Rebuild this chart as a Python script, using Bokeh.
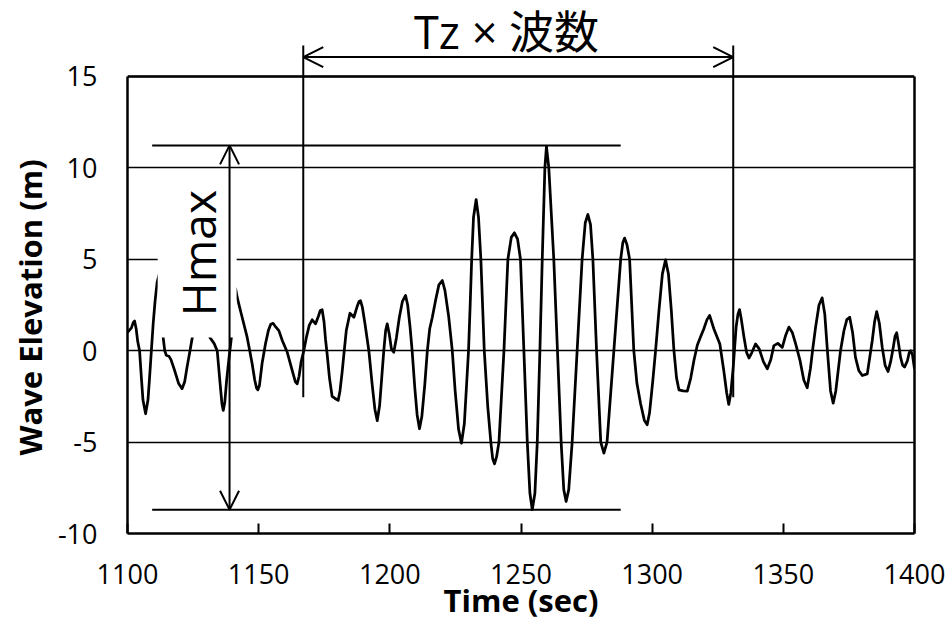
import math
from bokeh.plotting import figure
from bokeh.models import LinearAxis, FixedTicker, Arrow, OpenHead, Range1d, Title
from bokeh.core.properties import value
from bokeh.embed import file_html
from bokeh.resources import INLINE

# ---- wave record (time in s, elevation in m) ----
time_sec = [
    1100.0, 1101.5, 1102.2, 1102.7, 1103.3, 1103.9, 1104.6, 1105.3, 1105.9, 1106.9,
    1107.8, 1108.4, 1109.1, 1109.8, 1110.5, 1111.3, 1112.3, 1113.1, 1113.6, 1114.2,
    1114.8, 1115.8, 1116.6, 1118.0, 1119.5, 1120.8, 1121.8, 1122.7, 1123.7, 1124.7,
    1126.5, 1128.0, 1129.8, 1131.4, 1133.0, 1134.2, 1135.3, 1136.0, 1136.5, 1137.1,
    1137.8, 1138.7, 1139.6, 1140.5, 1141.2, 1141.8, 1142.7, 1143.7, 1145.6, 1146.6,
    1147.5, 1148.5, 1149.2, 1149.7, 1150.3, 1151.3, 1152.6, 1153.7, 1154.6, 1155.5,
    1156.5, 1157.7, 1159.0, 1160.9, 1162.8, 1164.0, 1164.7, 1165.4, 1166.2, 1167.2,
    1168.3, 1169.3, 1170.4, 1171.7, 1172.8, 1173.5, 1174.2, 1174.9, 1175.5, 1176.1,
    1177.0, 1178.0, 1179.0, 1180.3, 1181.0, 1181.8, 1182.5, 1183.4, 1184.8, 1186.3,
    1187.5, 1188.3, 1188.8, 1189.5, 1190.5, 1192.0, 1193.3, 1194.3, 1195.2, 1196.1,
    1196.9, 1197.7, 1198.4, 1199.0, 1199.8, 1200.6, 1201.5, 1202.5, 1203.6, 1204.8,
    1206.0, 1206.8, 1207.7, 1208.5, 1209.5, 1210.4, 1211.3, 1212.2, 1213.3, 1214.3,
    1215.2, 1216.2, 1217.5, 1218.7, 1220.0, 1221.0, 1222.4, 1223.8, 1224.9, 1226.2,
    1227.3, 1228.4, 1229.2, 1230.0, 1230.6, 1231.2, 1231.9, 1232.9, 1233.8, 1234.7,
    1236.0, 1237.3, 1238.5, 1239.2, 1239.9, 1240.7, 1241.6, 1243.5, 1245.0, 1246.3,
    1247.5, 1248.7, 1249.8, 1251.1, 1252.4, 1253.4, 1254.3, 1255.3, 1256.2, 1257.2,
    1258.1, 1259.1, 1259.7, 1260.6, 1262.5, 1263.9, 1265.3, 1266.3, 1267.2, 1268.2,
    1269.5, 1271.4, 1273.3, 1274.5, 1275.5, 1276.5, 1277.4, 1278.8, 1280.4, 1281.6,
    1282.8, 1285.4, 1288.0, 1288.8, 1289.5, 1290.4, 1291.4, 1293.0, 1294.2, 1295.6,
    1297.0, 1298.1, 1299.0, 1300.2, 1301.3, 1302.6, 1303.9, 1305.1, 1306.2, 1307.3,
    1308.3, 1309.3, 1310.2, 1311.8, 1313.4, 1314.7, 1315.9, 1317.2, 1318.5, 1319.7,
    1320.9, 1321.9, 1323.5, 1325.8, 1327.3, 1328.4, 1329.2, 1330.0, 1330.9, 1332.0,
    1332.7, 1333.3, 1334.0, 1335.0, 1336.0, 1336.9, 1338.0, 1339.4, 1340.8, 1342.4,
    1343.9, 1345.2, 1346.4, 1347.9, 1349.6, 1350.8, 1352.1, 1353.4, 1354.7, 1356.3,
    1357.8, 1359.1, 1360.3, 1361.3, 1362.3, 1363.6, 1364.8, 1365.8, 1366.8, 1368.0,
    1369.0, 1370.0, 1371.8, 1373.1, 1374.2, 1375.3, 1376.4, 1377.5, 1378.8, 1380.1,
    1382.0, 1383.9, 1384.8, 1385.6, 1386.6, 1387.7, 1388.8, 1389.9, 1390.9, 1391.9,
    1392.6, 1393.2, 1393.9, 1394.7, 1395.5, 1396.2, 1397.3, 1398.0, 1398.5, 1399.2,
    1400.0,
]
elevation_m = [
    1.00, 1.25, 1.55, 1.62, 1.20, 0.50, 0.00, -1.50, -2.70, -3.45,
    -2.70, -1.50, 0.00, 1.50, 2.70, 3.75, 4.30, 2.50, 0.72, 0.00,
    -0.25, -0.30, -0.50, -1.10, -1.80, -2.08, -1.70, -0.90, -0.10, 0.72,
    2.30, 2.60, 2.00, 0.72, 0.40, 0.00, -1.80, -2.90, -3.27, -2.80,
    -1.60, -0.40, 0.72, 3.00, 3.40, 2.93, 2.40, 1.83, 0.74, 0.00,
    -0.70, -1.60, -2.05, -2.14, -1.90, -0.70, 0.38, 1.10, 1.45, 1.50,
    1.30, 1.10, 0.56, -0.09, -1.09, -1.70, -1.81, -1.40, -0.60, 0.00,
    0.80, 1.40, 1.69, 1.47, 1.90, 2.20, 2.24, 1.60, 0.60, -0.18,
    -1.50, -2.50, -2.60, -2.72, -2.20, -1.20, -0.18, 1.10, 2.05, 1.83,
    2.40, 2.70, 2.74, 2.40, 1.50, 0.00, -1.90, -3.20, -3.83, -3.00,
    -1.50, 0.00, 1.10, 1.47, 0.90, 0.10, -0.09, 0.70, 1.80, 2.70,
    3.02, 2.50, 1.30, 0.00, -2.00, -3.50, -4.27, -3.60, -1.90, 0.00,
    1.20, 1.83, 2.80, 3.60, 3.84, 3.30, 1.90, 0.00, -2.20, -4.30,
    -5.06, -4.00, -2.00, 0.00, 2.40, 5.00, 7.30, 8.27, 7.30, 5.00,
    0.00, -3.00, -5.00, -5.90, -6.19, -5.80, -5.00, 0.00, 5.00, 6.20,
    6.45, 6.10, 5.00, 0.00, -5.00, -7.80, -8.70, -7.80, -5.00, 0.00,
    5.00, 10.00, 11.17, 10.00, 5.00, 0.00, -5.00, -7.60, -8.25, -7.60,
    -5.00, 0.00, 5.00, 7.00, 7.45, 6.90, 5.00, 0.00, -5.00, -5.60,
    -5.00, 0.00, 5.00, 5.90, 6.16, 5.80, 5.00, 0.00, -1.80, -2.90,
    -3.80, -4.05, -3.40, -1.70, 0.00, 2.20, 4.20, 4.97, 4.20, 2.20,
    0.00, -1.50, -2.14, -2.20, -2.21, -1.50, -0.55, 0.30, 0.78, 1.20,
    1.70, 1.93, 1.20, 0.37, -1.09, -2.30, -2.94, -2.30, -0.90, 1.29,
    2.00, 2.25, 1.70, 0.74, -0.10, -0.40, -0.10, 0.37, 0.10, -0.60,
    -0.99, -0.50, 0.28, 0.40, 0.18, 0.80, 1.29, 1.00, 0.37, -0.50,
    -1.60, -2.03, -1.00, 0.20, 1.29, 2.50, 2.89, 2.00, 0.00, -2.20,
    -2.87, -2.20, 0.00, 1.09, 1.70, 1.83, 1.00, -0.37, -1.10, -1.36,
    -1.27, 0.56, 1.60, 2.14, 1.50, 0.18, -0.80, -1.14, -0.60, 0.18,
    0.80, 0.98, 0.40, -0.37, -0.80, -0.90, -0.55, -0.10, 0.00, -0.20,
    -1.00,
]

x_ticks = [1100, 1150, 1200, 1250, 1300, 1350, 1400]
y_ticks = [-10, -5, 0, 5, 10, 15]
y_tick_labels = {-10: "-10", -5: "-5", 0: "0", 5: "5", 10: "10", 15: "15"}
x_title = "Time (sec)"
y_title = "Wave Elevation (m)"
hmax_label = "Hmax"
tz_label = "Tz × 波数"

# annotation geometry (data units)
hmax_time = 1138.9
hmax_top = 11.23
hmax_bottom = -8.70
hmax_line_x = [1109.4, 1288.0]
hmax_box = [1111.5, 1141.6, 0.72, 9.3]   # left, right, bottom, top (white mask)
hmax_text_pos = (1127.0, 5.34)
tz_start, tz_end = 1167.0, 1330.9
tz_arrow_y = 16.06
tz_text_pos = (1244.5, 17.47)
tz_line_top, tz_line_bottom = 16.7, -2.55

X_MIN, X_MAX = 1100, 1400
Y_MIN, Y_MAX = -10, 15
Y_FRAME_TOP = 19.157   # frame reaches above the plot box to hold the Tz annotation

FONT = "Open Sans"
CJK_FONT = "'Open Sans', 'Noto Sans CJK JP'"

p = figure(frame_width=787, frame_height=533,
           x_range=Range1d(X_MIN, X_MAX), y_range=Range1d(Y_MIN, Y_FRAME_TOP),
           output_backend="svg", toolbar_location=None,
           min_border_left=127, min_border_right=35, min_border_top=0, min_border_bottom=90,
           outline_line_color=None, background_fill_color="white", border_fill_color="white")

xa = p.xaxis[0]
xa.ticker = FixedTicker(ticks=x_ticks, minor_ticks=[])
xa.axis_line_width = 2.5
xa.axis_line_color = "black"
xa.major_tick_in = 10
xa.major_tick_out = 0
xa.major_tick_line_width = 2
xa.major_tick_line_color = "black"
xa.minor_tick_in = 0
xa.minor_tick_out = 0
xa.major_label_text_font = FONT
xa.major_label_text_font_size = "27px"
xa.major_label_text_color = "black"
xa.major_label_standoff = 30
xa.axis_label = x_title
xa.axis_label_text_font = FONT
xa.axis_label_text_font_size = "31px"
xa.axis_label_text_font_style = "bold"
xa.axis_label_text_color = "black"
xa.axis_label_standoff = -8

ya = p.yaxis[0]
ya.ticker = FixedTicker(ticks=y_ticks, minor_ticks=[])
ya.bounds = (Y_MIN, Y_MAX)
ya.major_label_overrides = y_tick_labels
ya.axis_line_width = 2.5
ya.axis_line_color = "black"
ya.major_tick_in = 0
ya.major_tick_out = 0
ya.minor_tick_in = 0
ya.minor_tick_out = 0
ya.major_label_text_font = FONT
ya.major_label_text_font_size = "27px"
ya.major_label_text_color = "black"
ya.major_label_standoff = 30

# y-axis title, centred on the plot box (not on the taller frame)
p.add_layout(Title(text=y_title, align="left", offset=78, standoff=8,
                   text_font=FONT, text_font_size="31px", text_font_style="bold",
                   text_color="black"), "left")

# right border of the plot box
ra = LinearAxis(bounds=(Y_MIN, Y_MAX), ticker=FixedTicker(ticks=[], minor_ticks=[]),
                major_label_text_font_size="0px", major_tick_in=0, major_tick_out=0,
                minor_tick_in=0, minor_tick_out=0, axis_line_width=2.5, axis_line_color="black")
p.add_layout(ra, "right")

p.xgrid.visible = False
p.ygrid.grid_line_color = "black"
p.ygrid.grid_line_width = 1.4

# top border of the plot box
p.segment(x0=[X_MIN], y0=[Y_MAX], x1=[X_MAX], y1=[Y_MAX], line_color="black", line_width=2.5)

# wave
p.line(time_sec, elevation_m, line_color="black", line_width=2.75, line_join="round")

# white mask behind the Hmax label
p.quad(left=[hmax_box[0]], right=[hmax_box[1]], bottom=[hmax_box[2]], top=[hmax_box[3]],
       fill_color="white", line_color=None)

# Hmax reference lines
p.segment(x0=[hmax_line_x[0]] * 2, y0=[hmax_top, hmax_bottom],
          x1=[hmax_line_x[1]] * 2, y1=[hmax_top, hmax_bottom],
          line_color="black", line_width=2)
# Tz vertical lines
p.segment(x0=[tz_start, tz_end], y0=[tz_line_top] * 2,
          x1=[tz_start, tz_end], y1=[tz_line_bottom] * 2,
          line_color="black", line_width=2)

p.add_layout(Arrow(x_start=hmax_time, y_start=hmax_bottom, x_end=hmax_time, y_end=hmax_top,
                   line_width=2, line_color="black",
                   start=OpenHead(size=19, line_width=2, line_color="black"),
                   end=OpenHead(size=19, line_width=2, line_color="black")))
p.add_layout(Arrow(x_start=tz_start, y_start=tz_arrow_y, x_end=tz_end, y_end=tz_arrow_y,
                   line_width=2, line_color="black",
                   start=OpenHead(size=20, line_width=2, line_color="black"),
                   end=OpenHead(size=20, line_width=2, line_color="black")))

p.text(x=[hmax_text_pos[0]], y=[hmax_text_pos[1]], text=[hmax_label], angle=math.pi / 2,
       text_align="center", text_baseline="alphabetic",
       text_font=value(FONT), text_font_size="46px", text_color="black")
p.text(x=[tz_text_pos[0]], y=[tz_text_pos[1]], text=[tz_label],
       text_align="center", text_baseline="alphabetic",
       text_font=value(CJK_FONT), text_font_size="45px", text_color="black")

open("out.html", "w").write(file_html(p, INLINE))
